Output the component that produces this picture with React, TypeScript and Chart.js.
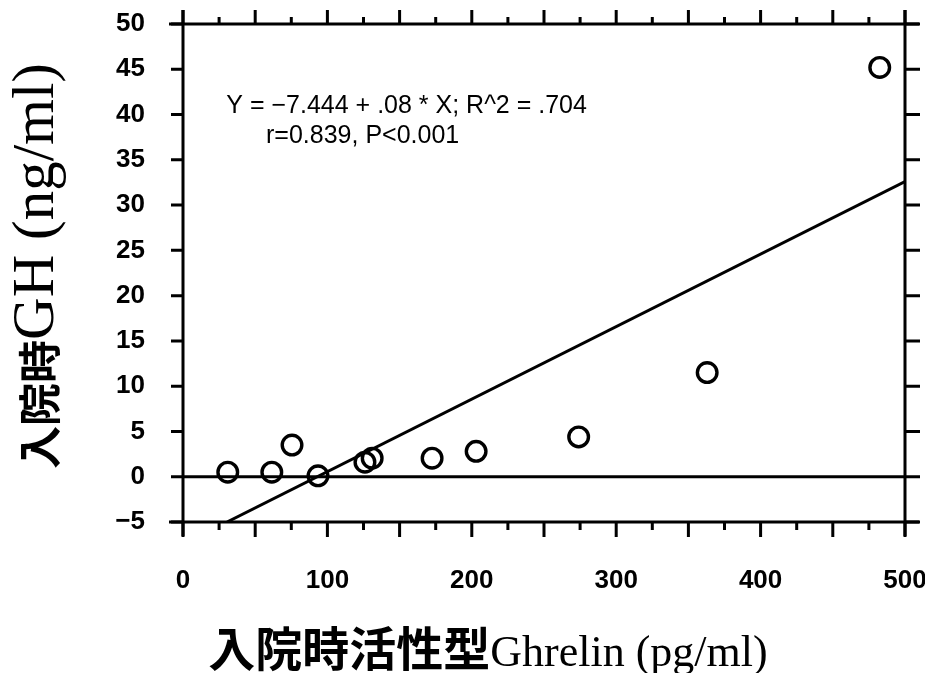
import React, { useEffect, useRef } from "react";
import { Chart, registerables } from "chart.js";

Chart.register(...registerables);

// ---- data ----
const ghrelin = [31, 61.5, 75.5, 93.5, 126, 131, 172.5, 203, 274, 363, 482.5];
const gh = [0.5, 0.5, 3.5, 0.1, 1.6, 2.05, 2.05, 2.8, 4.4, 11.5, 45.2];
const fitX = [30.5, 500];
const fitY = [-5, 32.6];
const zeroX = [0, 500];
const zeroY = [0, 0];
const xMarkValues = [0, 25, 50, 75, 100, 125, 150, 175, 200, 225, 250, 275, 300, 325, 350, 375, 400, 425, 450, 475, 500];
const xMajorMarks = [0, 50, 100, 150, 200, 250, 300, 350, 400, 450, 500];
const yMarkValues = [-5, 0, 5, 10, 15, 20, 25, 30, 35, 40, 45, 50];
const xLabelValues = [0, 100, 200, 300, 400, 500];
const equationText = "Y = −7.444 + .08 * X; R^2 = .704";
const statText = "r=0.839, P<0.001";
const xTitleCJK = "入院時活性型";
const xTitleLatin = "Ghrelin (pg/ml)";
const yTitleCJK = "入院時";
const yTitleLatin = "GH (ng/ml)";

const X_CJK_FONT = 'bold 47px "Noto Sans CJK JP"';
const X_LAT_FONT = '44px "Liberation Serif"';
const Y_CJK_FONT = 'bold 43px "Noto Sans CJK JP"';
const Y_LAT_FONT = '59px "Liberation Serif"';

const zeroPad = (s: any) => {
  s.paddingLeft = 0;
  s.paddingRight = 0;
  s.paddingTop = 0;
  s.paddingBottom = 0;
};

const framePlugin = {
  id: "frameAndTitles",
  afterDraw(chart: any) {
    const { ctx, chartArea, scales } = chart;
    const { left, right, top, bottom } = chartArea;
    const x = scales.x;
    const y = scales.y;
    ctx.save();
    ctx.strokeStyle = "#000";
    ctx.lineWidth = 3;
    ctx.lineCap = "butt";
    const ext = 14;
    ctx.beginPath();
    ctx.moveTo(left - ext, top);
    ctx.lineTo(right + ext, top);
    ctx.moveTo(left - ext, bottom);
    ctx.lineTo(right + ext, bottom);
    ctx.moveTo(left, top - ext);
    ctx.lineTo(left, bottom + ext);
    ctx.moveTo(right, top - ext);
    ctx.lineTo(right, bottom + ext);
    ctx.stroke();

    ctx.beginPath();
    for (const v of xMarkValues) {
      const px = x.getPixelForValue(v);
      const major = xMajorMarks.includes(v);
      ctx.moveTo(px, top);
      ctx.lineTo(px, top - (major ? 14 : 7));
      ctx.moveTo(px, bottom);
      ctx.lineTo(px, bottom + (major ? 15 : 8));
    }
    for (const v of yMarkValues) {
      const py = y.getPixelForValue(v);
      ctx.moveTo(left, py);
      ctx.lineTo(left - 12, py);
      ctx.moveTo(right, py);
      ctx.lineTo(right + 15, py);
    }
    ctx.stroke();

    // annotation text
    ctx.fillStyle = "#000";
    ctx.font = '25px "Liberation Sans"';
    ctx.textAlign = "left";
    ctx.textBaseline = "alphabetic";
    ctx.fillText(equationText, x.getPixelForValue(30), y.getPixelForValue(40.2));
    ctx.fillText(statText, x.getPixelForValue(57.5), y.getPixelForValue(36.9));

    // x title
    ctx.font = X_CJK_FONT;
    const wc = ctx.measureText(xTitleCJK).width;
    ctx.font = X_LAT_FONT;
    const wl = ctx.measureText(xTitleLatin).width;
    const cx = 488;
    const sx = cx - (wc + wl) / 2;
    ctx.font = X_CJK_FONT;
    ctx.fillText(xTitleCJK, sx, 666);
    ctx.font = X_LAT_FONT;
    ctx.fillText(xTitleLatin, sx + wc, 666);

    // y title (rotated)
    ctx.font = Y_CJK_FONT;
    const wc2 = ctx.measureText(yTitleCJK).width;
    ctx.font = Y_LAT_FONT;
    const wl2 = ctx.measureText(yTitleLatin).width;
    ctx.translate(53, 266);
    ctx.rotate(-Math.PI / 2);
    const sy = -(wc2 + wl2) / 2;
    ctx.font = Y_CJK_FONT;
    ctx.fillText(yTitleCJK, sy, 3);
    ctx.font = Y_LAT_FONT;
    ctx.fillText(yTitleLatin, sy + wc2, 0);
    ctx.restore();
  },
};

export default function App() {
  const ref = useRef<HTMLCanvasElement | null>(null);
  useEffect(() => {
    document.body.style.margin = "0";
    const canvas = ref.current;
    if (!canvas) return;
    const tickFont = { family: '"Liberation Sans"', weight: "bold" as const, size: 26 };
    const chart = new Chart(canvas, {
      type: "scatter",
      data: {
        datasets: [
          {
            label: "zero",
            type: "line",
            data: zeroX.map((v, i) => ({ x: v, y: zeroY[i] })),
            borderColor: "#000",
            borderWidth: 3,
            pointRadius: 0,
            fill: false,
          },
          {
            label: "fit",
            type: "line",
            data: fitX.map((v, i) => ({ x: v, y: fitY[i] })),
            borderColor: "#000",
            borderWidth: 3,
            pointRadius: 0,
            fill: false,
          },
          {
            label: "GH",
            data: ghrelin.map((v, i) => ({ x: v, y: gh[i] })),
            pointStyle: "circle",
            pointRadius: 9.8,
            borderWidth: 3.4,
            borderColor: "#000",
            backgroundColor: "rgba(0,0,0,0)",
            showLine: false,
          },
        ],
      },
      options: {
        responsive: false,
        animation: false,
        layout: { padding: { top: 24, right: 20, left: 0, bottom: 0 } },
        plugins: { legend: { display: false }, tooltip: { enabled: false } },
        scales: {
          x: {
            type: "linear",
            min: 0,
            max: 500,
            position: "bottom",
            afterBuildTicks: (s: any) => {
              s.ticks = xLabelValues.map((v) => ({ value: v }));
            },
            afterFit: (s: any) => {
              s.height = 151;
              zeroPad(s);
            },
            ticks: { font: tickFont, color: "#000", padding: 43, maxRotation: 0, autoSkip: false },
            grid: { display: false, drawTicks: false },
            border: { display: false },
          },
          y: {
            type: "linear",
            min: -5,
            max: 50,
            afterBuildTicks: (s: any) => {
              s.ticks = yMarkValues.map((v) => ({ value: v }));
            },
            afterFit: (s: any) => {
              s.width = 183;
              zeroPad(s);
            },
            ticks: {
              font: tickFont,
              color: "#000",
              padding: 38,
              autoSkip: false,
              callback: (v: any) => (Number(v) < 0 ? "−" + Math.abs(Number(v)) : String(v)),
            },
            grid: { display: false, drawTicks: false },
            border: { display: false },
          },
        },
      },
      plugins: [framePlugin],
    });
    return () => chart.destroy();
  }, []);
  return (
    <div style={{ width: 925, height: 673 }}>
      <canvas ref={ref} width={925} height={673} />
    </div>
  );
}
